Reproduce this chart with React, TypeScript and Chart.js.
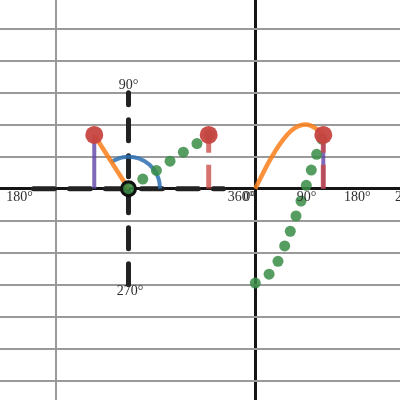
import React, { useEffect, useRef } from 'react';
import { Chart, registerables } from 'chart.js';
Chart.register(...registerables);

// axis ranges (data units)
const X_MIN = -8.054;
const X_MAX = 4.565;
const Y_MIN = -6.603;
const Y_MAX = 5.897;
const xGridValues = [-2 * Math.PI, 0];
const yGridValues = [-6, -5, -4, -3, -2, -1, 0, 1, 2, 3, 4, 5];

// left: circle axes (dashed)
const axisHX = [-7, -1];
const axisHY = [0, 0];
const axisVX = [-4, -4];
const axisVY = [-3, 3];

// blue angle arc
const arcX = [-3, -3.06, -3.234, -3.5, -3.826, -4.174, -4.5, -4.545];
const arcY = [0, 0.34, 0.643, 0.866, 0.985, 0.985, 0.866, 0.839];

// purple sine segments
const purpleLX = [-5.08, -5.08];
const purpleLY = [0, 1.68];
const purpleRX = [2.145, 2.145];
const purpleRY = [0, 1.68];

// orange radius and sine curve
const orangeLX = [-4, -5.08];
const orangeLY = [0, 1.68];
const sineX = [0, 0.25, 0.5, 0.75, 1.0, 1.25, 1.5, 1.75, 2.0, 2.145];
const sineY = [0, 0.5, 0.96, 1.36, 1.68, 1.9, 2.0, 1.97, 1.82, 1.68];

// green dotted traces
const greenLX = [-4, -3.55, -3.12, -2.69, -2.27, -1.84, -1.45];
const greenLY = [0, 0.3, 0.57, 0.86, 1.14, 1.41, 1.68];
const greenRX = [0, 0.435, 0.716, 0.927, 1.104, 1.284, 1.442, 1.609, 1.767, 1.937, 2.1];
const greenRY = [-2.95, -2.67, -2.27, -1.79, -1.33, -0.853, -0.384, 0.106, 0.584, 1.075, 1.55];

// red points and dashed lines
const redX = [-5.08, -1.47, 2.145];
const redY = [1.68, 1.68, 1.68];
const redDashLX = [-1.47, -1.47];
const redDashLY = [0, 1.68];
const redDashRX = [2.145, 2.145];
const redDashRY = [0, 1.68];

// center ring
const ringX = [-4];
const ringY = [0];

// text labels
const labelText = ['90°', '270°', '180°', '360°', '0°', '90°', '180°', '270°'];
const labelX = [-4.0, -3.95, -7.44, -0.45, -0.18, 1.62, 3.22, 4.83];
const labelY = [3.24, -3.2, -0.26, -0.27, -0.27, -0.27, -0.27, -0.27];

const pts = (xs: number[], ys: number[]) => xs.map((x, i) => ({ x, y: ys[i] }));

const lineDs = (xs: number[], ys: number[], color: string, width: number, order: number, extra: any = {}) => ({
  data: pts(xs, ys),
  showLine: true,
  borderColor: color,
  borderWidth: width,
  pointRadius: 0,
  pointHoverRadius: 0,
  fill: false,
  order,
  ...extra,
});

const pointDs = (xs: number[], ys: number[], color: string, radius: number, order: number, extra: any = {}) => ({
  data: pts(xs, ys),
  showLine: false,
  backgroundColor: color,
  borderColor: color,
  borderWidth: 0,
  pointRadius: radius,
  pointHoverRadius: radius,
  order,
  ...extra,
});

const labelPlugin = {
  id: 'labels',
  afterDatasetsDraw(chart: any) {
    const { ctx, scales } = chart;
    ctx.save();
    ctx.font = '14px "Liberation Serif", serif';
    ctx.fillStyle = '#2e2e2e';
    ctx.textAlign = 'center';
    ctx.textBaseline = 'middle';
    labelText.forEach((t, i) => {
      ctx.fillText(t, scales.x.getPixelForValue(labelX[i]), scales.y.getPixelForValue(labelY[i]));
    });
    ctx.restore();
  },
};

export default function App() {
  const ref = useRef<HTMLCanvasElement>(null);
  useEffect(() => {
    if (!ref.current) return;
    const red = 'rgba(199,68,64,0.95)';
    const chart = new Chart(ref.current, {
      type: 'scatter',
      data: {
        datasets: [
          lineDs(redDashLX, redDashLY, 'rgba(199,68,64,0.75)', 5, 1, { borderDash: [24, 12] }),
          lineDs(redDashRX, redDashRY, 'rgba(199,68,64,0.75)', 5, 1, { borderDash: [24, 12] }),
          pointDs(redX, redY, red, 9, 2),
          pointDs(greenLX, greenLY, 'rgba(56,140,70,0.85)', 5.5, 3),
          pointDs(greenRX, greenRY, 'rgba(56,140,70,0.85)', 5.5, 3),
          pointDs(ringX, ringY, 'rgba(0,0,0,0)', 6.5, 4, { borderColor: '#111', borderWidth: 4 }),
          lineDs(orangeLX, orangeLY, 'rgba(250,126,25,0.85)', 4.5, 5),
          lineDs(sineX, sineY, 'rgba(250,126,25,0.85)', 4.5, 5, { tension: 0.4 }),
          lineDs(purpleLX, purpleLY, 'rgba(96,66,166,0.8)', 4, 6),
          lineDs(purpleRX, purpleRY, 'rgba(96,66,166,0.8)', 4, 6),
          lineDs(arcX, arcY, 'rgba(45,112,179,0.85)', 4, 7, { tension: 0.4 }),
          lineDs(axisHX, axisHY, '#222', 5, 8, { borderDash: [21, 15], borderCapStyle: 'round' }),
          lineDs(axisVX, axisVY, '#222', 5, 8, { borderDash: [21, 15], borderCapStyle: 'round' }),
        ] as any,
      },
      options: {
        responsive: false,
        animation: false,
        events: [],
        layout: { padding: 0, autoPadding: false },
        plugins: { legend: { display: false }, tooltip: { enabled: false } },
        scales: {
          x: {
            type: 'linear',
            min: X_MIN,
            max: X_MAX,
            afterBuildTicks: (axis: any) => {
              axis.ticks = xGridValues.map((v) => ({ value: v }));
            },
            ticks: { display: false },
            border: { display: false },
            grid: {
              drawTicks: false,
              color: (c: any) => (c.tick && c.tick.value === 0 ? '#151515' : '#9a9a9a'),
              lineWidth: (c: any) => (c.tick && c.tick.value === 0 ? 3 : 2),
            },
          },
          y: {
            type: 'linear',
            min: Y_MIN,
            max: Y_MAX,
            afterBuildTicks: (axis: any) => {
              axis.ticks = yGridValues.map((v) => ({ value: v }));
            },
            ticks: { display: false },
            border: { display: false },
            grid: {
              drawTicks: false,
              color: (c: any) => (c.tick && c.tick.value === 0 ? '#151515' : '#9a9a9a'),
              lineWidth: (c: any) => (c.tick && c.tick.value === 0 ? 3 : 2),
            },
          },
        },
      } as any,
      plugins: [labelPlugin],
    });
    return () => chart.destroy();
  }, []);
  return (
    <div style={{ position: 'fixed', left: 0, top: 0, width: 400, height: 400, background: '#fff' }}>
      <canvas ref={ref} width={400} height={400} style={{ display: 'block' }} />
    </div>
  );
}
